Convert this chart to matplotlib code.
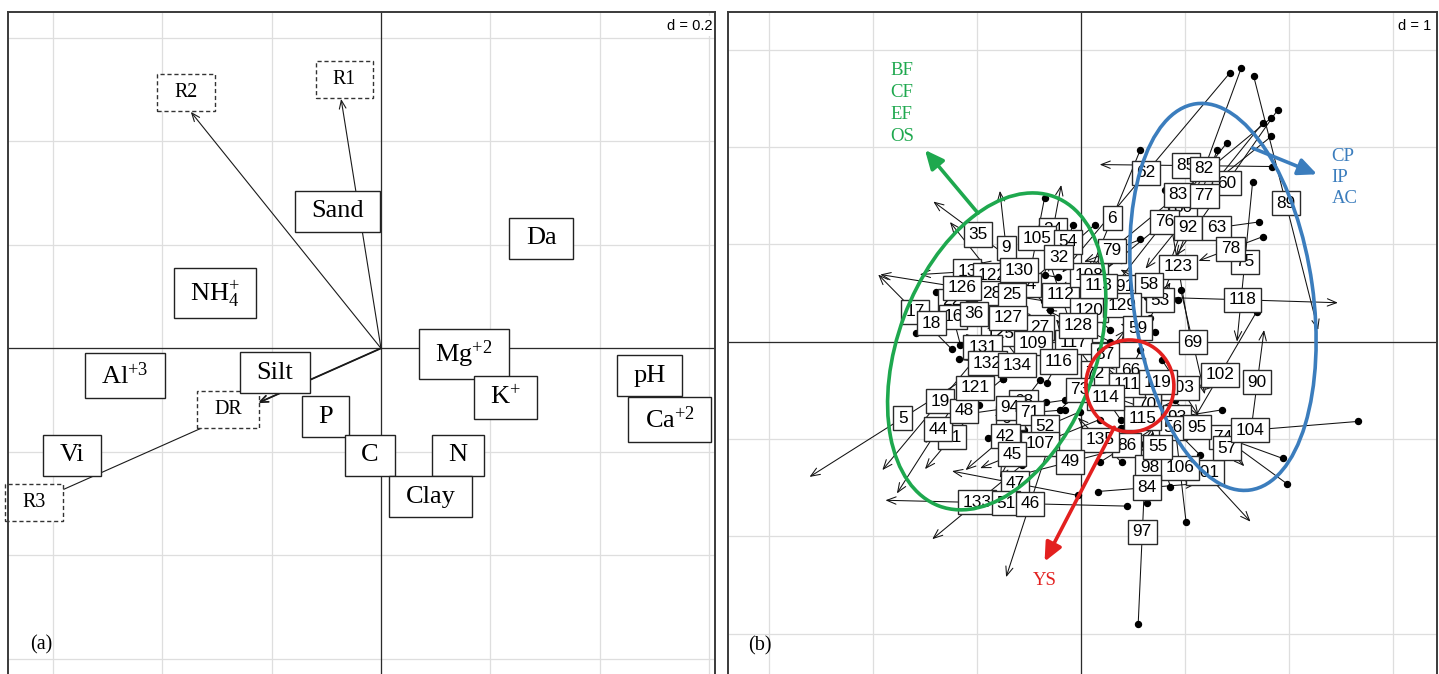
import numpy as np
import matplotlib
matplotlib.use("Agg")
import matplotlib.pyplot as plt
from matplotlib.path import Path
from matplotlib.patches import Ellipse
import matplotlib.transforms as mtransforms

plt.rcParams['mathtext.fontset'] = 'custom'
plt.rcParams['mathtext.rm'] = 'Liberation Serif'
plt.rcParams['mathtext.it'] = 'Liberation Serif:italic'
plt.rcParams['mathtext.bf'] = 'Liberation Serif:bold'

SERIF = 'Liberation Serif'
SANS = 'Liberation Sans'

# ---------------- panel (a): soil variables and supplementary arrows ----------------
var_names = ['Sand', 'Da', r'NH$_{\rm 4}^{\rm {+}}$', r'Mg$^{\rm {+}2}$', r'Al$^{\rm {+}3}$', 'Silt',
             'P', 'C', 'N', 'Clay', r'K$^{\rm {+}}$', 'pH', r'Ca$^{\rm {+}2}$', 'Vi']
var_x = [-0.079, 0.293, -0.304, 0.152, -0.468, -0.194, -0.102, -0.020, 0.141, 0.091,
         0.228, 0.492, 0.528, -0.565]
var_y = [0.265, 0.213, 0.106, -0.011, -0.053, -0.047, -0.132, -0.207, -0.207, -0.287,
         -0.095, -0.053, -0.138, -0.207]

sup_names = ['R1', 'R2', 'DR', 'R3']
sup_tip_x = [-0.073, -0.348, -0.226, -0.620]
sup_tip_y = [0.482, 0.457, -0.106, -0.291]
sup_lab_x = [-0.067, -0.357, -0.280, -0.635]
sup_lab_y = [0.519, 0.495, -0.118, -0.297]

# ---------------- panel (b): sites, reference point -> rotated point ----------------
site_labels = [
    '24', '85', '80', '60', '76', '75', '13', '122', '28', '22', '16', '17', '34', '125',
    '27', '117', '112', '108', '120', '91', '66', '72', '103', '93', '56', '70', '86',
    '98', '101', '74', '57', '64', '68', '41', '73', '131', '47', '133', '111', '109',
    '62', '82', '83', '77', '89', '92', '63', '78', '118', '123', '6', '79', '53', '58',
    '129', '59', '69', '102', '90', '104', '95', '106', '84', '97', '55', '135', '115',
    '119', '87', '114', '35', '9', '105', '54', '32', '130', '126', '25', '18', '36',
    '127', '128', '113', '5', '51', '46', '19', '44', '48', '121', '132', '134', '116',
    '94', '71', '52', '42', '107', '45', '49']
ref_x = [
    -0.35, 1.84, 1.83, 1.89, 1.40, 1.65, -0.64, -0.45, -0.59, -1.39, -1.16, -1.24, -0.30, -0.59,
    -0.20, 0.09, -0.08, 0.38, 0.28, 0.18, 0.57, 0.28, 0.78, 1.36, 1.14, 0.38, 0.18,
    0.63, 0.76, 1.98, 1.24, -0.89, -0.39, -0.98, -0.20, -0.78, -0.03, -0.57, 0.66, -0.59,
    1.43, 1.54, 1.83, 1.75, 1.66, 1.31, 1.71, 1.75, 0.63, 0.81, 0.57, 0.57, 0.66, 0.93,
    0.57, 0.71, 0.96, 1.69, 1.63, 2.66, 1.94, 1.01, 0.16, 0.55, 0.86, 0.39, 0.90,
    0.18, 0.03, 0.38, -0.56, -0.66, -0.35, -0.08, 0.13, -0.22, -0.36, -0.55, -1.59, -0.88,
    -0.30, 0.28, 0.38, -0.82, 0.44, -0.26, -0.80, -0.98, -0.75, -0.68, -1.17, -0.75, -0.33,
    -0.15, -0.15, -0.01, -0.34, 0.18, -0.55, 0.57]
ref_y = [
    0.69, 1.80, 2.11, 2.38, 2.04, 1.64, 0.75, 0.14, 0.22, 0.51, -0.03, -0.08, 0.33, -0.19,
    -0.03, -0.24, 0.12, 0.84, 0.12, 0.43, -0.09, -0.19, -0.19, -0.70, -1.16, -0.89, -1.24,
    -1.66, -0.84, -1.46, -0.91, -0.99, -0.39, -0.65, -0.70, -0.19, -1.58, -1.27, -0.65, -0.31,
    2.76, 2.81, 2.30, 2.25, 2.73, 1.97, 1.23, 1.08, 0.46, 1.56, 1.97, 1.05, 0.24, 0.43,
    0.12, 0.10, 0.53, 0.31, -0.95, -0.82, -1.20, -1.85, -1.54, -2.90, -1.49, -1.24, -0.60,
    -0.37, -0.39, -0.80, 0.76, 0.38, 1.48, 1.20, 1.20, 0.66, 0.42, 0.12, 0.09, 0.02,
    0.07, 0.00, 0.43, -0.18, -1.69, -0.91, 0.10, -0.24, -0.38, 0.12, -0.18, -0.38, -0.42,
    -0.60, -0.70, -0.72, -0.62, -0.80, -0.91, -1.05]
rot_x = [
    -0.19, 0.18, 0.13, 0.91, 0.21, 1.50, -1.55, -1.26, -1.13, -1.09, -1.30, -1.95, -0.74, -0.97,
    -0.59, -0.24, -0.31, -0.22, -0.13, 0.66, 0.38, -0.01, 1.13, 0.49, 0.63, 0.89, 0.70,
    0.69, 1.63, 0.75, 1.57, -0.47, -0.72, -1.50, 0.18, -1.11, -1.24, -1.43, 0.22, -0.34,
    -0.18, 0.83, 0.04, 0.62, 2.28, 0.75, 0.90, 1.13, 2.47, 1.06, 0.03, 0.03, 0.86, 0.38,
    0.22, 0.38, 1.19, 0.98, 1.76, 0.59, 0.29, 0.89, 1.11, 0.63, 0.61, -0.03, 0.29,
    1.30, 0.43, 0.09, -1.42, -0.78, -0.50, -0.17, -0.56, -0.97, -1.93, -0.78, -1.28, -1.18,
    -1.11, -0.34, -0.05, -2.61, -1.88, -0.72, -1.91, -1.77, -1.50, -1.36, -0.63, -0.48, -0.10,
    -1.21, -0.83, -0.68, -1.11, -0.97, -0.78, -0.78]
rot_y = [
    1.61, 1.82, 0.65, 0.88, 0.42, 0.00, 0.69, 1.23, 0.78, 0.33, 0.54, 0.69, 0.84, 0.35,
    0.32, 0.23, 0.84, 0.53, 0.53, 0.70, -0.50, -0.46, -0.76, -0.85, -0.61, -0.41, -0.89,
    -0.92, -1.85, -0.50, -1.28, -0.58, -0.85, -1.31, -0.29, 0.08, -1.33, -2.03, -0.24, 0.28,
    0.71, 0.74, 0.72, 0.75, 0.12, 0.37, 1.11, 0.83, 0.40, -0.02, 0.57, 0.82, 0.61, 0.74,
    0.63, 0.18, -0.54, -0.99, 0.12, -1.00, -0.56, -0.74, -1.46, -1.01, -0.67, -0.78, -0.97,
    -0.46, 0.12, -0.35, 1.44, 1.55, 0.65, 0.85, 0.54, 0.81, 0.69, 0.84, 0.29, 0.55,
    0.42, 0.33, 0.72, -1.39, -1.63, -2.42, -1.32, -1.56, -1.04, -1.07, -0.26, -0.10, 0.01,
    -0.76, -0.76, -1.03, -1.32, -1.30, -1.40, -1.42]

# group ellipses / arrows (centre, size in inches, angle) and their labels
groups = [
    dict(text='BF\nCF\nEF\nOS', color='#1ea84e', centre=(-0.81, -0.10), size=(3.30, 1.98), angle=69.6,
         base=(-0.99, 1.32), tip=(-1.50, 1.97), label_xy=(-1.83, 2.45), ha='left', ls=1.38),
    dict(text='CP\nIP\nAC', color='#3b7dbd', centre=(1.365, 0.46), size=(3.90, 1.80), angle=98.0,
         base=(1.65, 1.99), tip=(2.27, 1.72), label_xy=(2.41, 1.69), ha='left', ls=1.32),
    dict(text='YS', color='#e3201f', centre=(0.47, -0.455), size=(0.92, 0.88), angle=95.0,
         base=(0.32, -0.88), tip=(-0.35, -2.26), label_xy=(-0.35, -2.45), ha='center', ls=1.2),
]


def rect_box(padx, pady):
    """Rectangular label box with separate horizontal / vertical padding."""
    def box(x0, y0, width, height, mutation_size):
        px = padx * mutation_size
        py = pady * mutation_size
        xa, ya = x0 - px, y0 - py
        xb, yb = x0 + width + px, y0 + height + py
        return Path([(xa, ya), (xb, ya), (xb, yb), (xa, yb), (xa, ya)],
                    [Path.MOVETO, Path.LINETO, Path.LINETO, Path.LINETO, Path.CLOSEPOLY])
    return box


def style_axes(ax, xlim, ylim, step):
    ax.set_xlim(*xlim)
    ax.set_ylim(*ylim)
    xt = np.arange(np.ceil(xlim[0] / step) * step, xlim[1] + 1e-9, step)
    yt = np.arange(np.ceil(ylim[0] / step) * step, ylim[1] + 1e-9, step)
    ax.set_xticks(xt)
    ax.set_yticks(yt)
    ax.grid(True, color='#dedede', lw=0.9, zorder=0)
    ax.set_axisbelow(True)
    ax.tick_params(length=0, labelbottom=False, labelleft=False)
    for s in ax.spines.values():
        s.set_color('#3a3a3a')
        s.set_linewidth(1.4)
        s.set_zorder(9)
    ax.axhline(0, color='#2b2b2b', lw=0.9, zorder=1)
    ax.axvline(0, color='#2b2b2b', lw=0.9, zorder=1)


fig = plt.figure(figsize=(14.39, 6.74), dpi=100)
fig.patch.set_facecolor('white')

# ---------------- panel (a) ----------------
axa = fig.add_axes([8 / 1439, -2 / 674, 707 / 1439, 664 / 674])
style_axes(axa, (-0.6825, 0.6112), (-0.6332, 0.6499), 0.2)

for name, tx, ty in zip(sup_names, sup_tip_x, sup_tip_y):
    lw = 1.3 if name == 'DR' else 0.8
    axa.annotate('', xy=(tx, ty), xytext=(0, 0),
                 arrowprops=dict(arrowstyle='->,head_length=0.5,head_width=0.2', lw=lw,
                                 color='#1a1a1a', shrinkA=0, shrinkB=0, mutation_scale=12),
                 zorder=2)

for name, lx, ly in zip(sup_names, sup_lab_x, sup_lab_y):
    axa.text(lx, ly, name, ha='center', va='center', fontsize=14.4, family=SERIF,
             bbox=dict(boxstyle=rect_box(0.85, 0.45), fc='white', ec='#333333', lw=1.0, ls=(0, (3, 2))),
             zorder=4)

for name, x, y in zip(var_names, var_x, var_y):
    axa.text(x, y, name, ha='center', va='center', fontsize=19, family=SERIF,
             bbox=dict(boxstyle=rect_box(0.62, 0.36), fc='white', ec='#222222', lw=1.0),
             zorder=5)

axa.text(0.996, 0.979, 'd = 0.2', transform=axa.transAxes, ha='right', va='center',
         fontsize=10.5, family=SANS, zorder=8,
         bbox=dict(boxstyle='square,pad=0.2', fc='white', ec='none'))
axa.text(0.031, 0.047, '(a)', transform=axa.transAxes, ha='left', va='center',
         fontsize=14.5, family=SERIF, zorder=8)

# ---------------- panel (b) ----------------
axb = fig.add_axes([728 / 1439, -2 / 674, 709 / 1439, 664 / 674])
style_axes(axb, (-3.394, 3.423), (-3.436, 3.388), 1.0)

for x0, y0, x1, y1 in zip(ref_x, ref_y, rot_x, rot_y):
    axb.annotate('', xy=(x1, y1), xytext=(x0, y0),
                 arrowprops=dict(arrowstyle='->,head_length=0.55,head_width=0.22', lw=0.75,
                                 color='#111111', shrinkA=0, shrinkB=0, mutation_scale=12),
                 zorder=2)
axb.plot(ref_x, ref_y, 'o', ms=4.3, color='black', zorder=3)

for lab, x0, y0, x1, y1 in zip(site_labels, ref_x, ref_y, rot_x, rot_y):
    axb.text((x0 + x1) / 2, (y0 + y1) / 2, lab, ha='center', va='center', fontsize=12.4,
             family=SANS, bbox=dict(boxstyle=rect_box(0.27, 0.27), fc='white', ec='#2a2a2a', lw=1.0),
             zorder=4)

for g in groups:
    tr = fig.dpi_scale_trans + mtransforms.ScaledTranslation(g['centre'][0], g['centre'][1], axb.transData)
    axb.add_patch(Ellipse((0, 0), g['size'][0], g['size'][1], angle=g['angle'], transform=tr,
                          fill=False, ec=g['color'], lw=2.6, zorder=6))
    axb.annotate('', xy=g['tip'], xytext=g['base'],
                 arrowprops=dict(arrowstyle='-|>,head_length=0.7,head_width=0.32', lw=2.6,
                                 color=g['color'], shrinkA=0, shrinkB=0, mutation_scale=16),
                 zorder=7)
    axb.text(g['label_xy'][0], g['label_xy'][1], g['text'], color=g['color'], family=SERIF,
             fontsize=13.5, ha=g['ha'], va='center', linespacing=g['ls'], zorder=7)

axb.text(0.992, 0.979, 'd = 1', transform=axb.transAxes, ha='right', va='center',
         fontsize=10.5, family=SANS, zorder=8,
         bbox=dict(boxstyle='square,pad=0.2', fc='white', ec='none'))
axb.text(0.029, 0.045, '(b)', transform=axb.transAxes, ha='left', va='center',
         fontsize=14.5, family=SERIF, zorder=8)

fig.savefig('out.png', dpi=100, facecolor='white')
